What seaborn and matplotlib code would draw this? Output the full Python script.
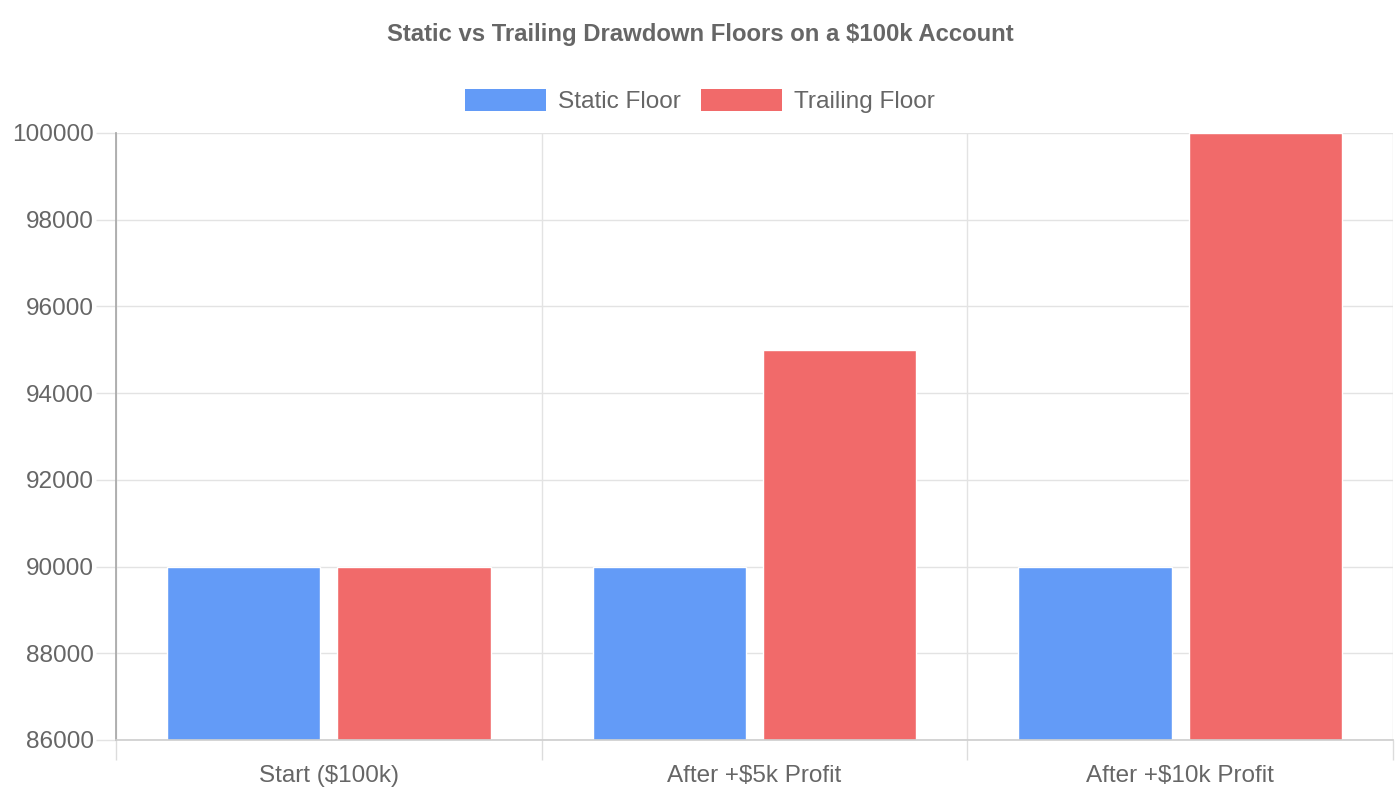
import numpy as np
import pandas as pd
import matplotlib
matplotlib.use("Agg")
import matplotlib.pyplot as plt
import seaborn as sns

# Data
stages = ["Start ($100k)", "After +$5k Profit", "After +$10k Profit"]
static_floor = [90000, 90000, 90000]
trailing_floor = [90000, 95000, 100000]
series_names = ["Static Floor", "Trailing Floor"]
y_ticks = [86000, 88000, 90000, 92000, 94000, 96000, 98000, 100000]

df = pd.DataFrame({
    "Stage": stages * 2,
    "Floor": static_floor + trailing_floor,
    "Series": [series_names[0]] * 3 + [series_names[1]] * 3,
})

sns.set_theme(style="white")
plt.rcParams['font.family'] = ['Liberation Sans', 'DejaVu Sans']
plt.rcParams['text.parse_math'] = False

text_col = "#666666"
palette = {"Static Floor": "#639bf7", "Trailing Floor": "#f16a6a"}

fig = plt.figure(figsize=(14, 8), dpi=100)
ax = fig.add_axes([116 / 1400, 1 - 740 / 800, (1393 - 116) / 1400, (740 - 133) / 800])

sns.barplot(data=df, x="Stage", y="Floor", hue="Series", palette=palette,
            width=0.8, gap=0.1, saturation=1, legend=False, ax=ax)

ax.set_ylim(86000, 100000)
ax.set_xlim(-0.5, 2.5)
ax.set_yticks(y_ticks)
ax.set_yticklabels([str(v) for v in y_ticks])

# category boundaries as major ticks (grid), labels at centers as minor ticks
ax.set_xticks([-0.5, 0.5, 1.5, 2.5])
ax.set_xticklabels([])
ax.set_xticks([0, 1, 2], minor=True)
ax.set_xticklabels(stages, minor=True)
ax.tick_params(axis="x", which="major", bottom=True, length=14.4, width=1, color="#dcdcdc")
ax.tick_params(axis="x", which="minor", bottom=True, length=0, pad=18,
               labelsize=17.5, labelcolor=text_col)
ax.tick_params(axis="y", left=True, length=14.4, width=1, color="#e3e3e3", pad=1.5,
               labelsize=17.6, labelcolor=text_col)

ax.grid(True, which="major", color="#e3e3e3", linewidth=1)
ax.set_axisbelow(True)
for s in ["top", "right"]:
    ax.spines[s].set_visible(False)
ax.spines["left"].set_color("#a8a8a8")
ax.spines["bottom"].set_color("#cfcfcf")
ax.set_xlabel("")
ax.set_ylabel("")

# Title and legend
fig.text(0.5, 1 - 35 / 800, "Static vs Trailing Drawdown Floors on a $100k Account",
         ha="center", va="center", fontsize=17.2, fontweight="bold", color=text_col)

handles = [plt.Rectangle((0, 0), 1, 1, facecolor=palette[n], edgecolor="none") for n in series_names]
fig.legend(handles, series_names, loc="center", bbox_to_anchor=(0.5, 1 - 101 / 800),
           ncol=2, frameon=False, fontsize=17.6, labelcolor=text_col,
           handlelength=3.3, handleheight=1.0, handletextpad=0.5, columnspacing=0.85)

fig.savefig("out.png", dpi=100)
